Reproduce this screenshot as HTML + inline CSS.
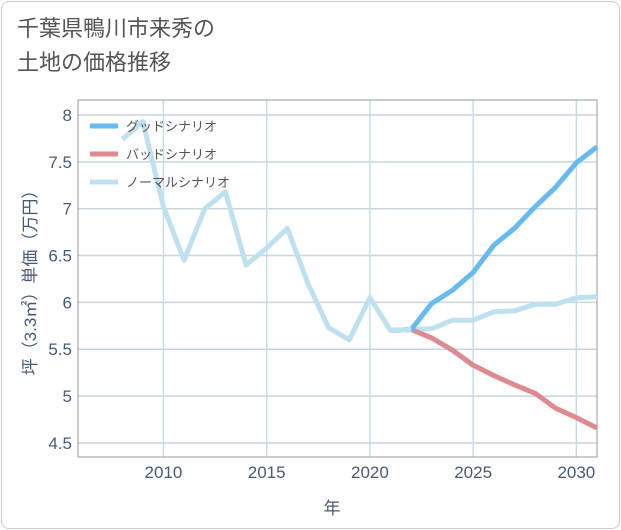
<!DOCTYPE html>
<html><head><meta charset="utf-8"><style>
body{margin:0;background:#fff;font-family:"Liberation Sans","Noto Sans CJK JP",sans-serif}
#card{position:absolute;left:1px;top:1px;width:617px;height:526px;border:1px solid #ccc;border-radius:8px;background:#fff}
#title{position:absolute;left:17px;top:12px;font-size:22px;line-height:34px;color:#555}
</style></head><body>
<div id="card"></div>
<div id="title">千葉県鴨川市来秀の<br>土地の価格推移</div>
<svg id="chart" width="621" height="530" style="position:absolute;left:0;top:0"></svg>
<script>
const years=[2008,2009,2010,2011,2012,2013,2014,2015,2016,2017,2018,2019,2020,2021,2022,2023,2024,2025,2026,2027,2028,2029,2030,2031];
const normal=[7.74,7.93,7.02,6.45,7.0,7.18,6.4,6.58,6.79,6.2,5.73,5.6,6.05,5.7,5.71,5.72,5.81,5.81,5.9,5.91,5.98,5.98,6.05,6.06];
const goodYears=[2021,2022,2023,2024,2025,2026,2027,2028,2029,2030,2031];
const good=[5.7,5.71,5.99,6.13,6.32,6.61,6.79,7.02,7.23,7.49,7.66];
const bad=[5.7,5.71,5.62,5.49,5.33,5.22,5.12,5.03,4.87,4.77,4.66];
const xTicks=[2010,2015,2020,2025,2030];
const yTicks=[4.5,5,5.5,6,6.5,7,7.5,8];
const yTickLabels=["4.5","5","5.5","6","6.5","7","7.5","8"];
const L=78,R=597,T=100,B=457,x0=2005.86,x1=2031,y0=4.35,y1=8.16;
const X=v=>L+(v-x0)/(x1-x0)*(R-L);
const Y=v=>B-(v-y0)/(y1-y0)*(B-T);
const svg=document.getElementById('chart');const NS='http://www.w3.org/2000/svg';
function mk(t,a){const e=document.createElementNS(NS,t);for(const k in a)e.setAttribute(k,a[k]);svg.appendChild(e);return e;}
yTicks.forEach((v,i)=>{
 const g=mk('line',{x1:L,x2:R,y1:Y(v),y2:Y(v),stroke:'#c8d4e0','stroke-width':1.5});
 
 
 const t=mk('text',{x:L-6,y:Y(v)+6,'text-anchor':'end','font-size':17,fill:'#4a5a75'});t.textContent=yTickLabels[i];
 
 
});
xTicks.forEach(v=>{
 const g=mk('line',{x1:X(v),x2:X(v),y1:T,y2:B,stroke:'#c8dce8','stroke-width':1.5});
 
 
 const t=mk('text',{x:X(v),y:B+21,'text-anchor':'middle','font-size':17,fill:'#4a5a75'});t.textContent=v;
 
 
});
const ax=mk('rect',{x:L,y:T,width:R-L,height:B-T,fill:'none',stroke:'#999','stroke-width':1});


function line(xs,ys,c,name){const p=mk('polyline',{points:xs.map((x,i)=>X(x)+','+Y(ys[i])).join(' '),fill:'none',stroke:c,'stroke-width':5,'stroke-linejoin':'round'});
 
 }
line(years,normal,'#bfe0ee','normal-scenario-line');
line(goodYears,bad,'#df8a90','bad-scenario-line');
line(goodYears,good,'#66bbf2','good-scenario-line');
line(years.slice(13,15),normal.slice(13,15),'#bfe0ee','normal-overlap');
[['グッドシナリオ','#66bbf2'],['バッドシナリオ','#df8a90'],['ノーマルシナリオ','#bfe0ee']].forEach((e,i)=>{
 const y=126+i*28;
 const l=mk('line',{x1:90,x2:118,y1:y,y2:y,stroke:e[1],'stroke-width':5});
 
 
 const t=mk('text',{x:126,y:y+5,'font-size':13,fill:'#555'});t.textContent=e[0];
 
 
});
const xl=mk('text',{x:332,y:514,'text-anchor':'middle','font-size':17,fill:'#4a5a75'});xl.textContent='年';


const yl=mk('text',{x:0,y:0,'text-anchor':'middle','font-size':17,fill:'#4a5a75',transform:'translate(36,'+((T+B)/2)+') rotate(-90)'});yl.textContent='坪（3.3㎡）単価（万円）';


</script>
</body></html>
